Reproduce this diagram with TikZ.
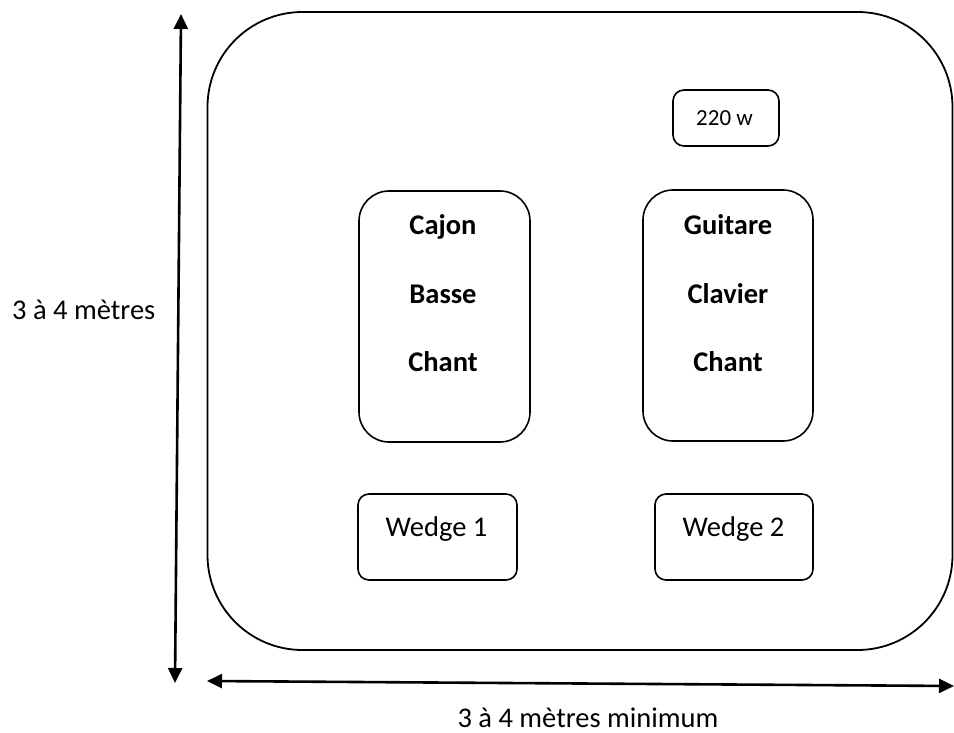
\documentclass[tikz,border=0pt]{standalone}
\usepackage{fontspec}
\setmainfont{Carlito}
\usetikzlibrary{arrows.meta}
\tikzset{
  stagebox/.style={draw, line width=1.8pt, rounded corners=95pt, inner sep=0pt},
  instbox/.style={draw, line width=1.6pt, rounded corners=30pt, inner sep=0pt},
  smallbox/.style={draw, line width=1.6pt, rounded corners=11pt, inner sep=0pt},
  dimarrow/.style={line width=2.6pt, {Triangle[length=15pt,width=14pt]}-{Triangle[length=15pt,width=14pt]}},
  lbl/.style={font=\fontsize{28.5pt}{34pt}\selectfont, inner sep=0pt, anchor=base},
  blbl/.style={lbl, font=\fontsize{28.5pt}{34pt}\selectfont\bfseries},
}
\begin{document}
\begin{tikzpicture}[x=1pt,y=-1pt]
\useasboundingbox (0,0) rectangle (954,733);
% stage
\node[stagebox, minimum width=745pt, minimum height=638pt] (stage) at (580,331) {};
% instrument boxes
\node[instbox, minimum width=171pt, minimum height=251pt] (left) at (444.5,316.5) {};
\node[instbox, minimum width=170pt, minimum height=251pt] (right) at (728,315.5) {};
\node[lbl, font=\fontsize{23pt}{28pt}\selectfont, smallbox, minimum width=106pt, minimum height=56pt, anchor=center] (amp) at (726,118) {};
\node[smallbox, minimum width=159pt, minimum height=86pt] (w1) at (437.5,537) {};
\node[smallbox, minimum width=158pt, minimum height=86pt] (w2) at (734,537) {};
% texts
\node[lbl, font=\fontsize{23pt}{28pt}\selectfont] (ampt) at (724.5,126) {220 w};
\node[blbl] (cajon) at (443,235) {Cajon};
\node[blbl] (basse) at (443,303) {Basse};
\node[blbl] (chant1) at (443,371) {Chant};
\node[blbl] (guitare) at (728,235) {Guitare};
\node[blbl] (clavier) at (728,303) {Clavier};
\node[blbl] (chant2) at (728,371) {Chant};
\node[lbl] (w1t) at (436.5,536) {Wedge 1};
\node[lbl] (w2t) at (733.5,536) {Wedge 2};
% dimensions
\coordinate (vtop) at (181,14);
\coordinate (vbot) at (175,683);
\coordinate (hleft) at (207,681);
\coordinate (hright) at (954,686);
\draw[dimarrow] (vtop) -- (vbot);
\draw[dimarrow] (hleft) -- (hright);
\node[lbl, anchor=base west] (vdim) at (12,319) {3 à 4 mètres};
\node[lbl] (hdim) at (588,727) {3 à 4 mètres minimum};
\end{tikzpicture}
\end{document}
